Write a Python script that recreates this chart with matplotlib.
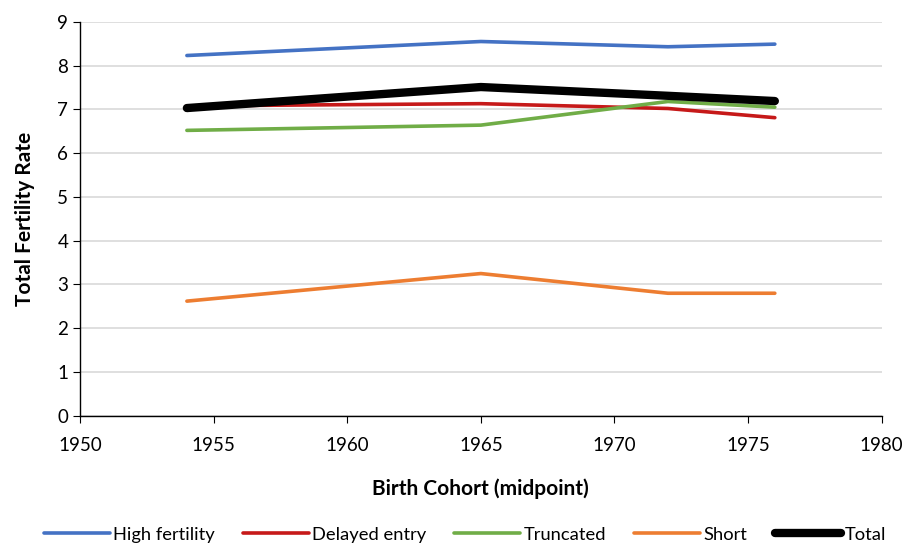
import matplotlib
matplotlib.use('Agg')
import matplotlib.pyplot as plt

plt.rcParams['font.family'] = ['Lato', 'DejaVu Sans']

# ── data ──────────────────────────────────────────────────────────────────────
cohorts        = [1954, 1965, 1972, 1976]
high_fertility = [8.23, 8.55, 8.43, 8.49]
delayed_entry  = [7.08, 7.13, 7.02, 6.81]
truncated      = [6.52, 6.64, 7.18, 7.05]
short          = [2.62, 3.25, 2.80, 2.80]
total          = [7.03, 7.51, 7.31, 7.19]

fig = plt.figure(figsize=(9.09, 5.45), dpi=100)
ax = fig.add_axes([0.088, 0.237, 0.882, 0.723])

ax.plot(cohorts, high_fertility, color='#4472C4', lw=2.6, label='High fertility', solid_capstyle='round')
ax.plot(cohorts, delayed_entry, color='#C00000', lw=2.6, label='Delayed entry', solid_capstyle='round', alpha=0.9)
ax.plot(cohorts, truncated, color='#70AD47', lw=2.6, label='Truncated', solid_capstyle='round')
ax.plot(cohorts, short, color='#ED7D31', lw=2.6, label='Short', solid_capstyle='round')
ax.plot(cohorts, total, color='black', lw=6, label='Total', solid_capstyle='round')

ax.set_xlim(1950, 1980)
ax.set_ylim(0, 9)
ax.set_xticks(range(1950, 1981, 5))
ax.set_yticks(range(0, 10))
ax.grid(axis='y', color='#D9D9D9', lw=1.2)
ax.set_axisbelow(True)
for s in ['top', 'right']:
    ax.spines[s].set_visible(False)
for s in ['left', 'bottom']:
    ax.spines[s].set_color('black')
    ax.spines[s].set_linewidth(1.0)
ax.tick_params(axis='both', labelsize=13.5, length=5, color='black', direction='out')
ax.tick_params(axis='x', pad=10)

ax.set_xlabel('Birth Cohort (midpoint)', fontsize=15, fontweight='bold', labelpad=18)
ax.set_ylabel('Total Fertility Rate', fontsize=15, fontweight='bold', labelpad=16)

ax.legend(loc='upper center', bbox_to_anchor=(0.48, -0.24), ncol=5, frameon=False,
          fontsize=13.2, handlelength=3.6, handletextpad=0.2, columnspacing=1.5)

fig.savefig('out.png', dpi=100, facecolor='white')
